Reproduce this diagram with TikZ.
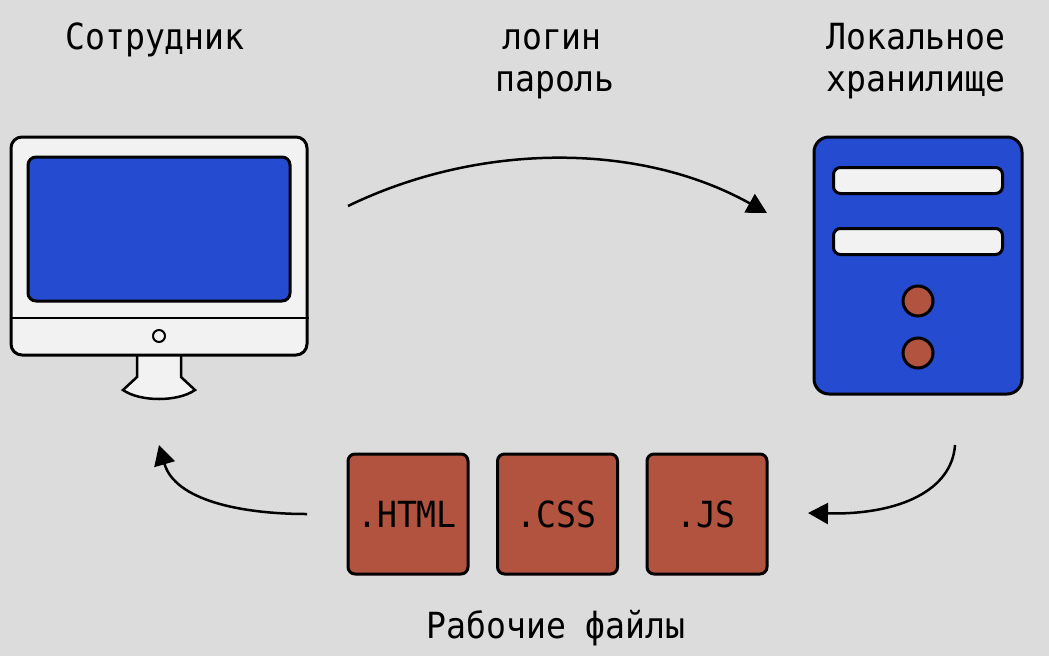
\documentclass[tikz,border=0pt]{standalone}
\usepackage{fontspec}
\setmainfont[FakeStretch=0.92]{DejaVu Sans Mono}
\usetikzlibrary{arrows.meta}
\definecolor{paneback}{HTML}{DCDCDC}
\definecolor{screenblue}{HTML}{244BD0}
\definecolor{filered}{HTML}{B25340}
\definecolor{casewhite}{HTML}{F2F2F2}
\newcommand{\caselabel}[3]{
  \node[label text, anchor=base] (#1) at #2 {#3};
}
\newcommand{\filenode}[3]{
  \node[file box] (#1) at (#2,514) {};
  \node[label text, anchor=base, xshift=-1pt] (#1text) at (#2,527) {#3};
}
\tikzset{
  every picture/.style = {x=1pt, y=-1pt, line width=3pt},
  label text/.style = {inner sep=0pt, font=\fontsize{36}{36}\selectfont},
  file box/.style   = {draw, fill=filered, rounded corners=7pt, minimum width=120pt,
                       minimum height=120pt, inner sep=0pt},
  slot box/.style   = {draw, fill=casewhite, rounded corners=7pt, minimum width=169pt,
                       minimum height=26pt, inner sep=0pt},
  lamp dot/.style   = {draw, circle, fill=filered, minimum size=30pt, inner sep=0pt},
  flow/.style       = {-{Triangle[length=20pt,width=21pt]}, line width=2.5pt}
}

\begin{document}
\begin{tikzpicture}
	\useasboundingbox (0,0) rectangle (1049,656);
	\fill[paneback] (0,0) rectangle (1049,656);
	% monitor
	\draw[fill=casewhite, line width=2.5pt] (137,354) -- (137,377) -- (123,390) .. controls (140,402) and (178,402) .. (195,390) -- (181,377) -- (181,354);
	\node[draw, fill=casewhite, rounded corners=11pt, minimum width=296pt, minimum height=218pt, inner sep=0pt] (monitor) at (159,246) {};
	\node[draw, fill=screenblue, rounded corners=8pt, minimum width=262pt, minimum height=144pt, inner sep=0pt] (screen) at (159,229) {};
	\draw[line width=2pt] (monitor.west |- 0,318) coordinate (barleft) -- (monitor.east |- 0,318) coordinate (barright);
	\node[draw, circle, fill=casewhite, minimum size=12pt, inner sep=0pt, line width=2pt] (button) at (159,336) {};
	% storage
	\node[draw, fill=screenblue, rounded corners=15pt, minimum width=208pt, minimum height=257pt, inner sep=0pt] (storage) at (918,265.5) {};
	\node[slot box] (slotA) at (918,180.5) {};
	\node[slot box] (slotB) at (918,241.5) {};
	\node[lamp dot] (lampA) at (918,301) {};
	\node[lamp dot] (lampB) at (918,353) {};
	% files
	\filenode{html}{408}{.HTML}
	\filenode{css}{557.5}{.CSS}
	\filenode{js}{707}{.JS}
	% texts
	\caselabel{worker}{(155,49)}{Сотрудник}
	\caselabel{login}{(552,49)}{логин}
	\caselabel{password}{(555,91)}{пароль}
	\caselabel{localA}{(916,49)}{Локальное}
	\caselabel{localB}{(916,91)}{хранилище}
	\caselabel{workfiles}{(556,638)}{Рабочие файлы}
	% flows
	\coordinate (sendstart) at (348,206);
	\coordinate (sendend) at (767,213);
	\coordinate (getstart) at (955,445);
	\coordinate (getend) at (808,513);
	\coordinate (openstart) at (307,514);
	\coordinate (openend) at (159,445);
	\draw[flow] (sendstart) .. controls (480,142) and (640,142) .. (sendend);
	\draw[flow] (getstart) .. controls (952,490) and (900,515) .. (getend);
	\draw[flow] (openstart) .. controls (240,514) and (175,500) .. (openend);
\end{tikzpicture}
\end{document}
